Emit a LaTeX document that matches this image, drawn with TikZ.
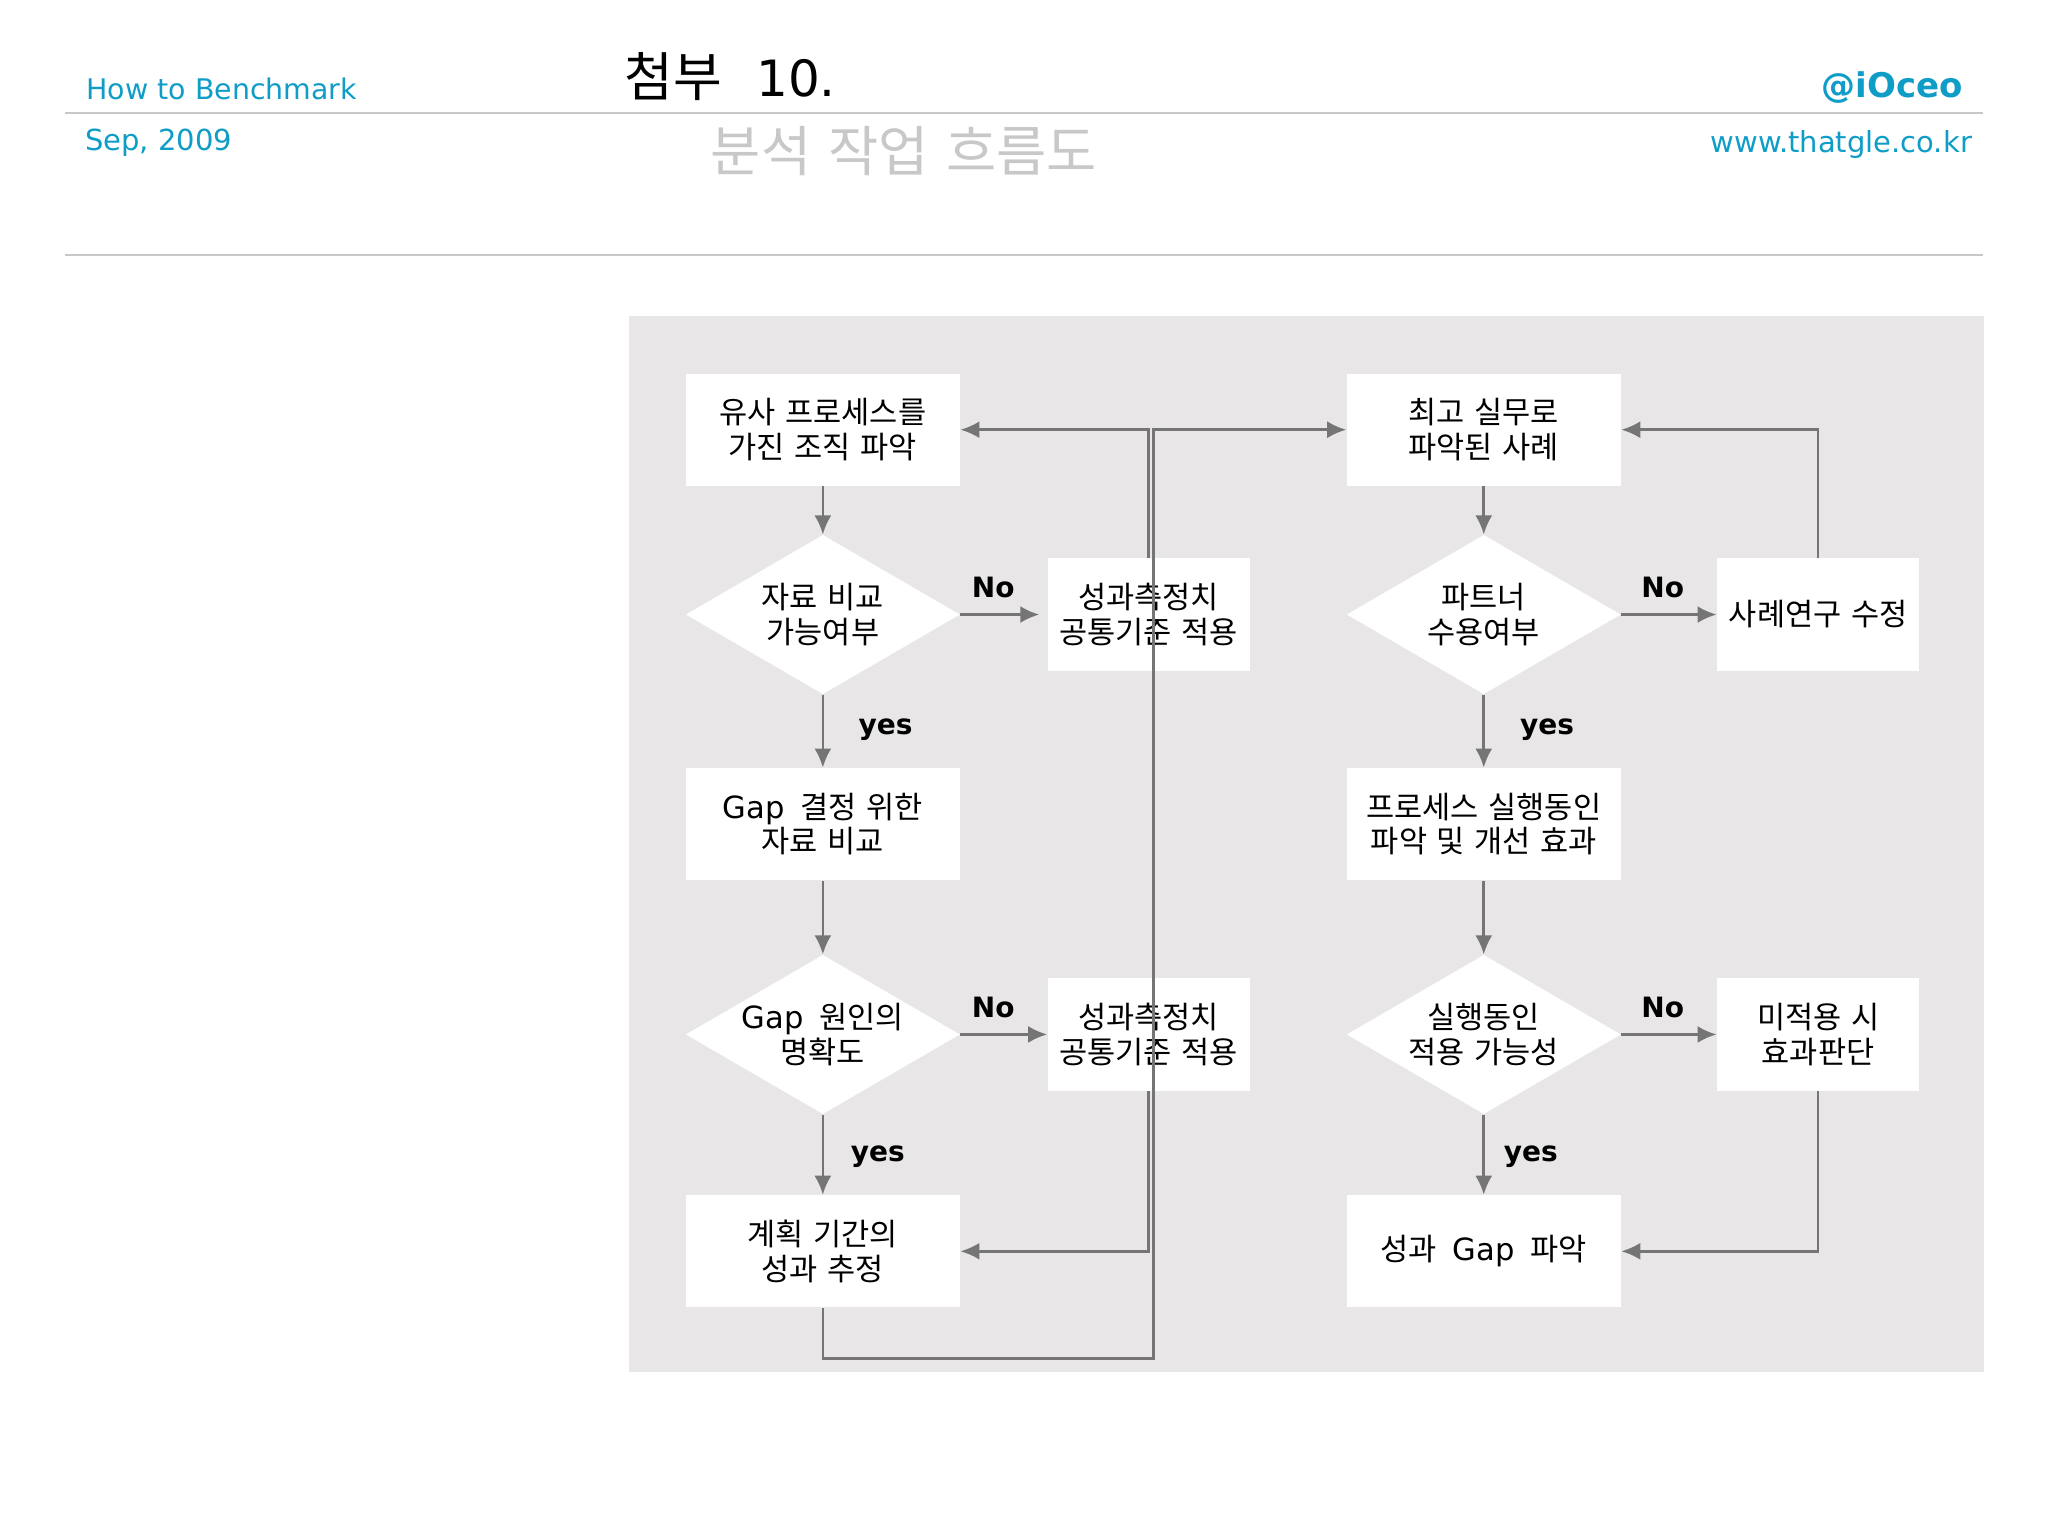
\documentclass[tikz,border=0pt]{standalone}
\usepackage{fontspec}
\usetikzlibrary{arrows.meta,shapes.geometric,calc}
\setmainfont{DejaVu Sans}
\newfontfamily\krf[WordSpace=1.4]{Noto Sans CJK KR}
\definecolor{panelc}{HTML}{E8E6E7}
\definecolor{linec}{HTML}{757575}
\definecolor{teal}{HTML}{0F9DC8}
\definecolor{rulec}{HTML}{C8C8C8}
\newcommand{\kk}[1]{{\krf #1}}
\newcommand{\latn}[1]{{\fontspec{DejaVu Sans}#1}}
\tikzset{
  rbox/.style={rectangle,fill=white,inner sep=0pt,align=center,font=\krf\fontsize{15.3}{17.2}\selectfont},
  bigbox/.style={rbox,minimum width=210*0.65306pt,minimum height=86*0.65306pt},
  midbox/.style={rbox,minimum width=155*0.65306pt,minimum height=86*0.65306pt},
  dec/.style={diamond,aspect=1.72,fill=white,inner sep=0pt,align=center,minimum width=210*0.65306pt,minimum height=122*0.65306pt,font=\krf\fontsize{15.3}{17.2}\selectfont},
  conn/.style={draw=linec,line width=1.3pt,-{Latex[length=9.5pt,width=8.5pt]}},
  lab/.style={font=\bfseries\fontsize{14}{16}\selectfont,inner sep=0pt},
  hrule/.style={draw=rulec,line width=1pt},
}
\begin{document}
\begin{tikzpicture}[x=0.65306pt,y=-0.65306pt]
\useasboundingbox (0,0) rectangle (1568,1176);
\fill[white] (0,0) rectangle (1568,1176);
% header
\coordinate (r1a) at (50,86.5); \coordinate (r1b) at (1518,86.5);
\coordinate (r2a) at (50,195); \coordinate (r2b) at (1518,195);
\draw[hrule] (r1a) -- (r1b);
\draw[hrule] (r2a) -- (r2b);
\node[anchor=base west,inner sep=0pt,text=teal,font=\fontsize{14.2}{16}\selectfont] (h1) at (66,76) {How to Benchmark};
\node[anchor=base west,inner sep=0pt,text=teal,font=\fontsize{14.5}{16}\selectfont] (h2) at (65,115) {Sep, 2009};
\node[anchor=base east,inner sep=0pt,text=teal,font=\bfseries\fontsize{17}{19}\selectfont] (h3) at (1503,75) {@iOceo};
\node[anchor=base east,inner sep=0pt,text=teal,font=\fontsize{14.5}{16}\selectfont] (h4) at (1510,117) {www.thatgle.co.kr};
\node[anchor=base west,inner sep=0pt,font=\fontsize{25}{28}\selectfont] (t1) at (478,74) {{\fontsize{26.5}{28}\selectfont\kk{첨부}}\hspace{17pt}10.};
\node[anchor=base west,inner sep=0pt,text=rulec,font=\krf\fontsize{27.3}{30}\selectfont] (t2) at (544,131) {분석 작업 흐름도};
% panel
\fill[panelc] (481.5,242) rectangle (1519,1050.5);
% left column
\node[bigbox] (a1) at (630,329) {유사 프로세스를\\가진 조직 파악};
\node[dec] (a2) at (630,470.5) {자료 비교\\가능여부};
\node[bigbox] (a3) at (630,631) {\latn{Gap}\hspace{8pt}결정 위한\\자료 비교};
\node[dec] (a4) at (630,792) {\latn{Gap}\hspace{8pt}원인의\\명확도};
\node[bigbox] (a5) at (630,958) {계획 기간의\\성과 추정};
% middle
\node[midbox] (m1) at (879.5,470.5) {성과측정치\\공통기준 적용};
\node[midbox] (m2) at (879.5,792) {성과측정치\\공통기준 적용};
% right column
\node[bigbox] (c1) at (1136,329) {최고 실무로\\파악된 사례};
\node[dec] (c2) at (1136,470.5) {파트너\\수용여부};
\node[bigbox] (c3) at (1136,631) {프로세스 실행동인\\파악 및 개선 효과};
\node[dec] (c4) at (1136,792) {실행동인\\적용 가능성};
\node[bigbox] (c5) at (1136,958) {\raisebox{-1.5pt}{성과\hspace{8pt}\latn{Gap}\hspace{8pt}파악}};
% far right
\node[midbox] (d1) at (1392,470.5) {사례연구 수정};
\node[midbox] (d2) at (1392,792) {미적용 시\\효과판단};
% labels
\node[lab] (n1) at (760.5,450) {No};
\node[lab] (y1) at (678,558.5) {yes};
\node[lab] (n2) at (760.5,771) {No};
\node[lab] (y2) at (672,885.5) {yes};
\node[lab] (n3) at (1273,450) {No};
\node[lab] (y3) at (1184.5,558.5) {yes};
\node[lab] (n4) at (1273,771) {No};
\node[lab] (y4) at (1172,885.5) {yes};
% connectors
\draw[conn] (a1) -- (a2);
\draw[conn] (a2) -- (a3);
\draw[conn] (a3) -- (a4);
\draw[conn] (a4) -- (a5);
\coordinate (m1stop) at ($(m1.west)+(-6,0)$);
\draw[conn] (a2.east) -- (m1stop);
\draw[conn] (a4.east) -- (m2.west);
\draw[conn] (m1.north) |- (a1.east);
\draw[conn] (m2.south) |- (a5.east);
\coordinate (loop) at (883,1040);
\draw[conn] (a5.south) |- (loop) -- (loop |- c1.west) -- (c1.west);
\draw[conn] (c1) -- (c2);
\draw[conn] (c2) -- (c3);
\draw[conn] (c3) -- (c4);
\draw[conn] (c4) -- (c5);
\draw[conn] (c2.east) -- (d1.west);
\draw[conn] (c4.east) -- (d2.west);
\draw[conn] (d1.north) |- (c1.east);
\draw[conn] (d2.south) |- (c5.east);
\end{tikzpicture}
\end{document}
